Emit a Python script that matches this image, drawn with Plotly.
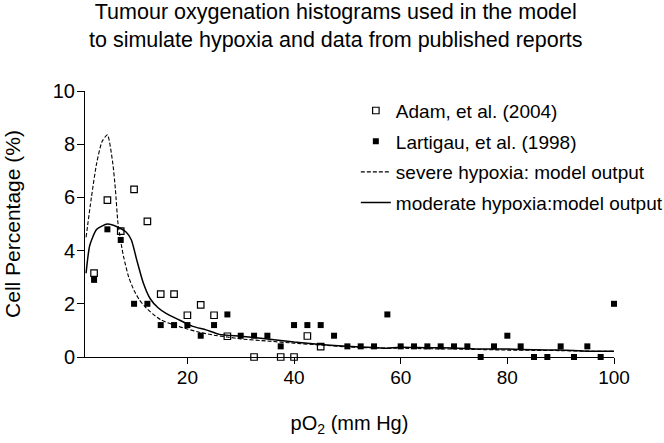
import plotly.graph_objects as go

# Adam et al. (2004) - open squares
adam_x = [2.5, 5, 7.5, 10, 12.5, 15, 17.5, 20, 22.5, 25, 27.5, 32.5, 37.5, 40, 42.5, 45]
adam_y = [3.15, 5.9, 4.73, 6.3, 5.1, 2.36, 2.36, 1.57, 1.96, 1.57, 0.78, 0.0, 0.0, 0.0, 0.79, 0.39]

# Lartigau et al. (1998) - filled squares
lart_x = [2.5, 5, 7.5, 10, 12.5, 15, 17.5, 20, 22.5, 25, 27.5, 30, 32.5, 35, 37.5, 40,
          42.5, 45, 47.5, 50, 52.5, 55, 57.5, 60, 62.5, 65, 67.5, 70, 72.5, 75, 77.5,
          80, 82.5, 85, 87.5, 90, 92.5, 95, 97.5, 100]
lart_y = [2.9, 4.8, 4.4, 2.0, 2.0, 1.2, 1.2, 1.2, 0.8, 1.2, 1.6, 0.8, 0.8, 0.8, 0.4, 1.2,
          1.2, 1.2, 0.8, 0.4, 0.4, 0.4, 1.6, 0.4, 0.4, 0.4, 0.4, 0.4, 0.4, 0.0, 0.4,
          0.8, 0.4, 0.0, 0.0, 0.4, 0.0, 0.4, 0.0, 2.0]

# Severe hypoxia model output (dashed)
sev_x = [1, 2, 3, 4, 5, 6, 6.5, 7, 8, 9, 10, 11, 12, 13.5, 15, 17.5, 20, 22.5, 25, 27.5,
         30, 35, 40, 45, 50, 55, 60, 65, 70, 75, 80, 85, 90, 95, 100]
sev_y = [4.5, 6.0, 7.3, 8.1, 8.35, 7.3, 6.3, 5.0, 3.8, 3.0, 2.5, 2.15, 1.9, 1.62, 1.4, 1.2,
         1.05, 0.92, 0.82, 0.75, 0.68, 0.6, 0.52, 0.45, 0.38, 0.34, 0.33, 0.31, 0.3, 0.28,
         0.26, 0.25, 0.24, 0.22, 0.21]

# Moderate hypoxia model output (solid)
mod_x = [1, 1.7, 3, 5, 7, 8.5, 9.5, 10.5, 11.7, 13, 14.5, 16, 18.5, 21, 23.5, 26, 30, 35,
         40, 45, 50, 55, 57, 60, 65, 70, 75, 80, 85, 90, 95, 100]
mod_y = [3.15, 4.2, 4.8, 5.0, 4.88, 4.7, 4.4, 3.65, 2.8, 2.2, 1.85, 1.64, 1.39, 1.15, 1.02,
         0.85, 0.78, 0.68, 0.56, 0.47, 0.4, 0.36, 0.33, 0.37, 0.35, 0.34, 0.3, 0.3, 0.27,
         0.26, 0.22, 0.22]

x_ticks = [20, 40, 60, 80, 100]
y_ticks = [0, 2, 4, 6, 8, 10]

TITLE = "Tumour oxygenation histograms used in the model<br>to simulate hypoxia and data from published reports"
FONT = "Liberation Sans, Arial, sans-serif"

fig = go.Figure()
fig.add_trace(go.Scatter(x=adam_x, y=adam_y, mode="markers", name="Adam, et al. (2004)",
                         legendgroup="a",
                         marker=dict(symbol="square-open", size=6.5, color="black",
                                     line=dict(width=1.2, color="black")),
                         cliponaxis=False))
fig.add_trace(go.Scatter(x=lart_x, y=lart_y, mode="markers", name="Lartigau, et al. (1998)",
                         legendgroup="b",
                         marker=dict(symbol="square", size=6, color="black"),
                         cliponaxis=False))
fig.add_trace(go.Scatter(x=sev_x, y=sev_y, mode="lines", name="severe hypoxia: model output",
                         legendgroup="c",
                         line=dict(color="black", width=1.1, dash="4px,2px", shape="spline",
                                   smoothing=0.6)))
fig.add_trace(go.Scatter(x=mod_x, y=mod_y, mode="lines", name="moderate hypoxia:model output",
                         legendgroup="d",
                         line=dict(color="black", width=1.5, shape="spline", smoothing=0.6)))

fig.add_annotation(text=TITLE, xref="paper", yref="paper", x=0.474, y=1.35,
                   xanchor="center", yanchor="top", showarrow=False, align="center",
                   font=dict(family=FONT, size=21.5, color="black"))

fig.update_layout(
    width=664, height=443,
    margin=dict(l=85, r=50, t=91, b=86, autoexpand=False),
    paper_bgcolor="white", plot_bgcolor="white",
    font=dict(family=FONT, size=19, color="black"),
    showlegend=True,
    legend=dict(x=0.512, y=0.9975, xanchor="left", yanchor="top",
                bgcolor="rgba(0,0,0,0)", font=dict(family=FONT, size=19, color="black"),
                tracegroupgap=3, itemwidth=30),
    xaxis=dict(range=[0.8, 100], tickmode="array", tickvals=x_ticks,
               ticks="outside", ticklen=6, tickwidth=1, tickcolor="black",
               showline=True, linecolor="black", linewidth=1, showgrid=False, zeroline=False,
               ticklabelstandoff=-3, automargin=False,
               title=dict(text="pO<sub>2</sub> (mm Hg)", standoff=29,
                          font=dict(family=FONT, size=20, color="black")),
               tickfont=dict(family=FONT, size=19, color="black")),
    yaxis=dict(range=[0, 10], tickmode="array", tickvals=y_ticks,
               ticks="outside", ticklen=7, tickwidth=1, tickcolor="black",
               showline=True, linecolor="black", linewidth=1, showgrid=False, zeroline=False,
               ticklabelstandoff=-2, automargin=False,
               title=dict(text="Cell Percentage (%)", standoff=26,
                          font=dict(family=FONT, size=21, color="black")),
               tickfont=dict(family=FONT, size=20, color="black")),
)

fig.write_html("out.html", config={"displayModeBar": False},
               post_script="document.body.style.margin='0';")
